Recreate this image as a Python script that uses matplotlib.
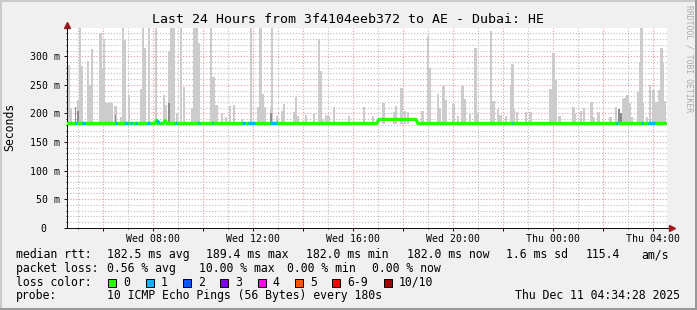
import numpy as np
import matplotlib.pyplot as plt
from matplotlib.patches import Rectangle
from matplotlib.lines import Line2D
from matplotlib.transforms import ScaledTranslation

W, H = 697, 310

# time axis in hours since Wed 00:00
t_start = 4.574
t_end = 28.574

# smoke: (hour, top of ping spread in ms)
spikes = [(4.63, 284), (4.73, 209), (5.01, 223), (5.09, 350), (5.17, 283), (5.41, 291),
          (5.49, 249), (5.57, 312), (5.91, 340), (5.97, 279), (6.05, 331), (6.15, 218),
          (6.25, 220), (6.35, 219), (6.51, 213), (6.73, 194), (6.81, 350), (6.87, 328),
          (7.05, 232), (7.53, 242), (7.61, 350), (7.67, 314), (7.85, 350), (8.13, 350),
          (8.45, 232), (8.53, 215), (8.65, 310), (8.75, 350), (8.85, 350), (8.97, 200),
          (9.13, 350), (9.25, 246), (9.57, 209), (9.65, 350), (9.75, 350), (9.85, 324),
          (10.33, 350), (10.43, 263), (10.55, 215), (10.77, 200), (10.93, 194), (11.09, 213),
          (11.25, 215), (11.57, 191), (11.93, 350), (12.21, 211), (12.31, 350), (12.41, 234),
          (12.49, 211), (12.73, 213), (12.77, 350), (12.97, 195), (13.17, 205), (13.25, 216),
          (13.65, 202), (13.73, 229), (13.81, 195), (14.13, 198), (14.45, 200), (14.65, 331),
          (14.73, 274), (14.81, 190), (14.93, 198), (15.03, 195), (15.25, 211), (15.85, 195),
          (16.45, 211), (16.81, 195), (17.23, 218), (17.65, 202), (17.73, 213), (17.95, 244),
          (18.09, 205), (18.21, 203), (18.79, 204), (19.01, 335), (19.09, 279), (19.41, 234),
          (19.49, 209), (19.63, 248), (19.73, 223), (20.03, 216), (20.21, 195), (20.39, 248),
          (20.47, 225), (20.69, 200), (20.91, 314), (20.99, 200), (21.53, 345), (21.63, 221),
          (21.81, 208), (21.91, 198), (22.13, 195), (22.33, 248), (22.39, 287), (22.45, 208),
          (22.57, 203), (22.93, 202), (23.11, 203), (23.91, 242), (24.03, 305), (24.13, 258),
          (24.27, 195), (24.83, 211), (24.89, 200), (25.13, 205), (25.25, 209), (25.55, 220),
          (25.65, 193), (25.83, 202), (26.31, 194), (26.53, 211), (26.65, 208), (26.73, 194),
          (26.81, 225), (26.87, 227), (26.99, 232), (27.09, 218), (27.17, 193), (27.41, 237),
          (27.49, 290), (27.55, 350), (27.61, 218), (27.77, 193), (27.89, 249), (28.03, 241),
          (28.15, 220), (28.25, 241), (28.35, 314), (28.41, 290), (28.49, 222)]
dark_spikes = [(4.91, 211), (5.01, 205), (6.51, 197), (8.65, 218), (12.73, 200),
               (26.65, 208), (26.73, 200)]

# median rtt
median_t = [t_start, 8.10, 8.16, 8.22, 8.44, 8.50, 8.56, 16.97, 17.05, 18.53, 18.61, t_end]
median_ms = [182.5, 182.5, 188.0, 182.5, 182.5, 187.5, 182.5, 182.5, 189.5, 189.5, 182.5, 182.5]

# periods with 1/10 packets lost
loss1_spans = [(4.89, 4.97), (5.17, 5.29), (6.49, 6.57), (6.89, 7.01), (7.09, 7.17),
               (7.29, 7.37), (7.77, 7.89), (8.17, 8.29), (8.89, 8.97), (9.81, 9.89),
               (10.37, 10.41), (11.57, 11.69), (11.81, 12.09), (12.69, 12.97),
               (22.37, 22.41), (26.53, 26.61), (27.53, 27.61), (27.81, 28.09)]

xtick_hours = [8, 12, 16, 20, 24, 28]
xtick_labels = ['Wed 08:00', 'Wed 12:00', 'Wed 16:00', 'Wed 20:00', 'Thu 00:00', 'Thu 04:00']
ytick_ms = [0, 50, 100, 150, 200, 250, 300]
ytick_labels = ['0', '50 m', '100 m', '150 m', '200 m', '250 m', '300 m']

loss_labels = ['0', '1', '2', '3', '4', '5', '6-9', '10/10']
loss_colors = ['#26ff00', '#00b8ff', '#0059ff', '#7e00ff', '#ff00ff', '#ff5500', '#ff0000', '#a10000']

title = 'Last 24 Hours from 3f4104eeb372 to AE - Dubai: HE'
rtt_stats = ['182.5 ms avg', '189.4 ms max', '182.0 ms min', '182.0 ms now', '1.6 ms sd', '115.4', 'am/s']
loss_stats = ['0.56 % avg', '10.00 % max', '0.00 % min', '0.00 % now']
probe_text = '10 ICMP Echo Pings (56 Bytes) every 180s'
stamp = 'Thu Dec 11 04:34:28 2025'

plt.rcParams['font.family'] = 'DejaVu Sans Mono'

fig = plt.figure(figsize=(W / 100, H / 100), dpi=100, facecolor='#f0f0f0')
ax = fig.add_axes([67 / W, (H - 227.7) / H, 600 / W, 200 / H])
ax.set_facecolor('white')
ax.set_xlim(t_start, t_end)
ax.set_ylim(0, 350)

# grid
ax.set_xticks(np.arange(6, 29, 2))
ax.set_xticks(np.arange(5, 29, 2), minor=True)
ax.set_xticklabels([xtick_labels[xtick_hours.index(h)] if h in xtick_hours else ''
                    for h in np.arange(6, 29, 2)])
ax.set_yticks(ytick_ms)
ax.set_yticklabels(ytick_labels)
ax.set_yticks(np.arange(10, 350, 10), minor=True)
ax.set_axisbelow(True)
ax.grid(which='major', color='#e89a9a', lw=0.8, linestyle=(0, (1, 1.6)))
ax.grid(which='minor', color='#bdbdbd', lw=0.8, linestyle=(0, (1, 1.6)))
ax.tick_params(which='major', length=2.2, width=0.7, color='#101010', labelsize=7.1)
ax.tick_params(axis='x', which='major', pad=2.0)
ax.tick_params(axis='y', which='major', pad=3.0)
ax.tick_params(which='minor', length=1.0, width=0.7, color='#101010')

# "0" sits under the digit column
lbl0 = ax.get_yticklabels()[0]
lbl0.set_transform(lbl0.get_transform() + ScaledTranslation(-13 / 100, 0, fig.dpi_scale_trans))

for s in ['top', 'right']:
    ax.spines[s].set_visible(False)
for s in ['left', 'bottom']:
    ax.spines[s].set_color('#101010')
    ax.spines[s].set_linewidth(0.72)

# smoke
st = np.array([p[0] for p in spikes])
stop = np.array([p[1] for p in spikes])
ax.bar(st, stop - 181, bottom=181, width=0.09, color='#cccccc', linewidth=0, zorder=2)
dt = np.array([p[0] for p in dark_spikes])
dtop = np.array([p[1] for p in dark_spikes])
ax.bar(dt, dtop - 181, bottom=181, width=0.06, color='#8c8c8c', linewidth=0, zorder=2)

# median line coloured by loss
ax.plot(median_t, median_ms, color=loss_colors[0], lw=2.3, solid_capstyle='butt', zorder=4)
for s, e in loss1_spans:
    ax.plot([s, e], np.interp([s, e], median_t, median_ms), color=loss_colors[1],
            lw=2.3, solid_capstyle='butt', zorder=5)

# axis arrows
arrow_c = '#9b1c1c'
ax.add_line(Line2D([0, 0], [1, 1.02], transform=ax.transAxes, color='#101010', lw=0.72, clip_on=False))
ax.add_line(Line2D([1, 1.006], [0, 0], transform=ax.transAxes, color='#101010', lw=0.72, clip_on=False))
ax.plot([0], [1.013], marker='^', ms=4, color=arrow_c, transform=ax.transAxes, clip_on=False)
ax.plot([1.008], [0], marker='>', ms=4, color=arrow_c, transform=ax.transAxes, clip_on=False)


def ftext(x, y, s, **kw):
    kw.setdefault('fontsize', 8.3)
    kw.setdefault('va', 'baseline')
    fig.text(x / W, 1 - y / H, s, **kw)


ftext(347.7, 23, title, fontsize=9.5, ha='center')
ftext(10, 127, 'Seconds', rotation=90, ha='center', va='center')
ftext(689, 5, 'RRDTOOL / TOBI OETIKER', rotation=270, ha='center', va='top',
      fontsize=5.8, color='#aaaaaa')

# legend
ftext(16, 258.3, 'median rtt:')
for s, x in zip(rtt_stats, [107, 206, 306, 407, 506, 586, 641]):
    ftext(x, 258.3, s)
ftext(16, 272, 'packet loss:')
for s, x in zip(loss_stats, [107, 199, 287, 372]):
    ftext(x, 272, s)
ftext(16, 285.8, 'loss color:')
bx = 108.3
for lab, c in zip(loss_labels, loss_colors):
    fig.patches.append(Rectangle((bx / W, 1 - 286.5 / H), 8 / W, 8 / H, transform=fig.transFigure,
                                 facecolor=c, edgecolor='black', lw=0.7))
    ftext(bx + 15, 285.8, lab)
    bx += 15 + len(lab) * 6.95 + 15.4
ftext(16, 299.3, 'probe:')
ftext(107, 299.3, probe_text)
ftext(680, 299.3, stamp, ha='right')

# 3d frame
fig.add_artist(Line2D([0, 1], [1 - 0.5 / H, 1 - 0.5 / H], transform=fig.transFigure, color='#cbcbcb', lw=1.5))
fig.add_artist(Line2D([0.5 / W, 0.5 / W], [0, 1], transform=fig.transFigure, color='#cbcbcb', lw=1.5))
fig.add_artist(Line2D([0, 1], [1.5 / H, 1.5 / H], transform=fig.transFigure, color='#999999', lw=2.2))
fig.add_artist(Line2D([1 - 1.5 / W, 1 - 1.5 / W], [0, 1], transform=fig.transFigure, color='#999999', lw=2.2))

fig.savefig('out.png', dpi=100, facecolor=fig.get_facecolor())
